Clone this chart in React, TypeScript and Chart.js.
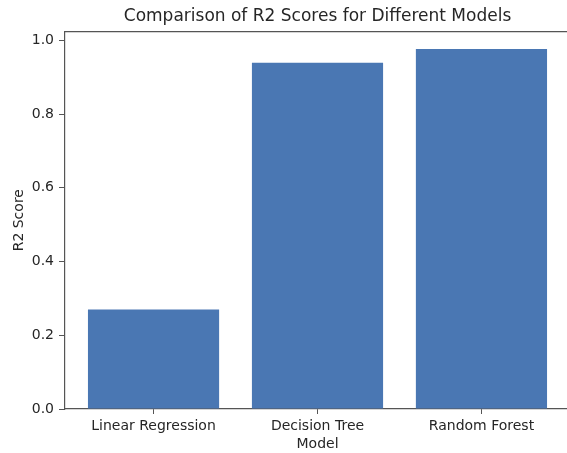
import React, { useEffect, useRef } from "react";
import { Chart, registerables } from "chart.js";

Chart.register(...registerables);

const categories = ["Linear Regression", "Decision Tree", "Random Forest"];
const r2Scores = [0.27, 0.939, 0.976];
const yTickValues = [0, 0.2, 0.4, 0.6, 0.8, 1.0];
const xTickValues = [0, 1, 2];

const FONT = "'DejaVu Sans', sans-serif";
const TEXT = "#262626";
const AXIS = "#555555";

export default function App() {
  const ref = useRef<HTMLCanvasElement | null>(null);

  useEffect(() => {
    if (!ref.current) return;
    const chart = new Chart(ref.current, {
      type: "bar",
      data: {
        datasets: [
          {
            label: "R2 Score",
            data: r2Scores.map((v, i) => ({ x: i, y: v })),
            backgroundColor: "#4a77b3",
            borderWidth: 0,
            categoryPercentage: 1,
            barPercentage: 0.8,
          },
        ],
      },
      options: {
        animation: false,
        responsive: false,
        maintainAspectRatio: false,
        layout: { padding: { left: 0, right: 5, top: 0, bottom: 0 } },
        plugins: {
          legend: { display: false },
          tooltip: { enabled: false },
          title: {
            display: true,
            text: "Comparison of R2 Scores for Different Models",
            fullSize: false,
            color: TEXT,
            font: { family: FONT, size: 17, weight: "normal", lineHeight: 1.2 },
            padding: { top: 6, bottom: 5 },
          },
        },
        scales: {
          x: {
            type: "linear",
            min: -0.54,
            max: 2.54,
            offset: false,
            afterBuildTicks: (s: any) => {
              s.ticks = xTickValues.map((v) => ({ value: v }));
            },
            afterFit: (s: any) => {
              s.height = 44;
            },
            ticks: {
              color: TEXT,
              font: { family: FONT, size: 14 },
              padding: 4,
              autoSkip: false,
              maxRotation: 0,
              callback: (v: any) => categories[Number(v)] ?? "",
            },
            grid: {
              display: true,
              offset: false,
              drawOnChartArea: false,
              drawTicks: true,
              tickLength: 5,
              color: AXIS,
            },
            border: { display: true, color: AXIS, width: 1.2 },
            title: {
              display: true,
              text: "Model",
              color: TEXT,
              font: { family: FONT, size: 14, lineHeight: 1.2 },
              padding: { top: 0, bottom: 0 },
            },
          },
          x2: {
            type: "linear",
            position: "top",
            min: 0,
            max: 1,
            offset: false,
            ticks: { display: false },
            grid: { display: false, drawTicks: false },
            border: { display: true, color: AXIS, width: 1.2 },
            afterFit: (s: any) => {
              s.height = 0;
            },
          },
          y: {
            type: "linear",
            min: 0,
            max: 1.024,
            afterBuildTicks: (s: any) => {
              s.ticks = yTickValues.map((v) => ({ value: v }));
            },
            afterFit: (s: any) => {
              s.width = 65;
            },
            ticks: {
              color: TEXT,
              font: { family: FONT, size: 14 },
              padding: 5,
              callback: (v: any) => Number(v).toFixed(1),
            },
            grid: {
              display: true,
              drawOnChartArea: false,
              drawTicks: true,
              tickLength: 6,
              color: AXIS,
            },
            border: { display: true, color: AXIS, width: 1.2 },
            title: {
              display: true,
              text: "R2 Score",
              color: TEXT,
              font: { family: FONT, size: 14, lineHeight: 1.2 },
              padding: { top: 11, bottom: 0 },
            },
          },
        },
      },
    } as any);
    return () => chart.destroy();
  }, []);

  return (
    <div
      style={{
        position: "absolute",
        left: 0,
        top: 0,
        width: 567,
        height: 453,
        overflow: "hidden",
        background: "#ffffff",
      }}
    >
      <canvas ref={ref} width={575} height={453} style={{ display: "block", width: 575, height: 453 }} />
    </div>
  );
}
